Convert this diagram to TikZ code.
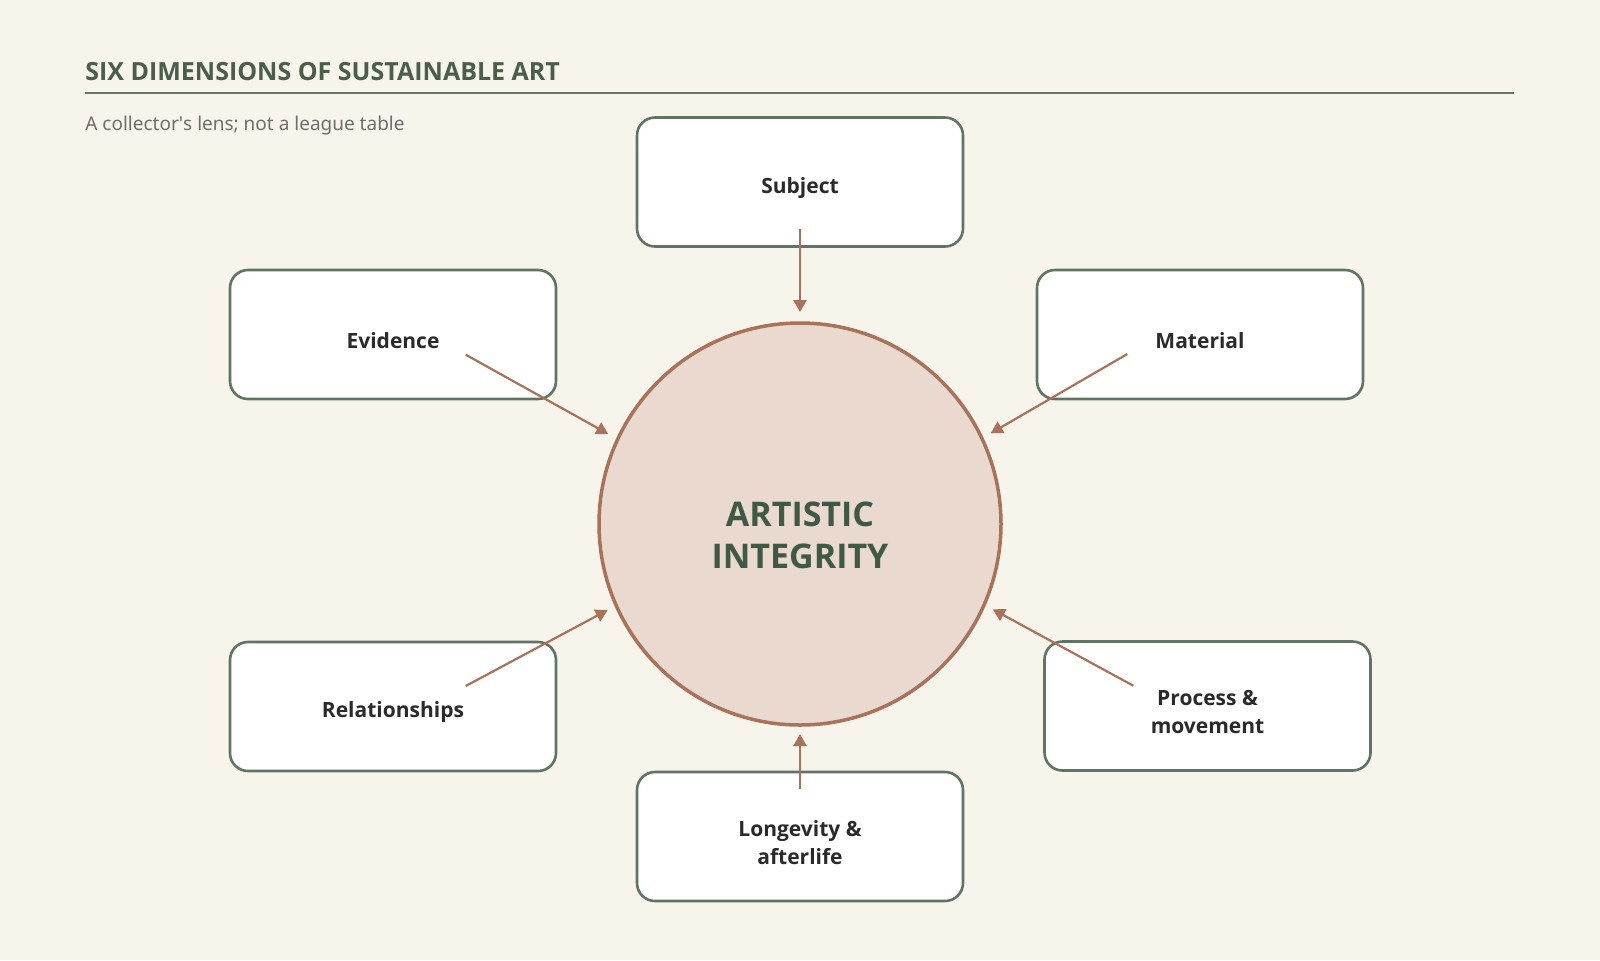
\documentclass[tikz,border=0pt]{standalone}
\usepackage{fontspec}
\setmainfont{Noto Sans}[BoldFont={Open Sans Bold}]
\usetikzlibrary{arrows.meta}
\definecolor{bg}{HTML}{F7F4EC}
\definecolor{boxline}{HTML}{5F7462}
\definecolor{titlegreen}{HTML}{4A5E4B}
\definecolor{subgray}{HTML}{6E6E6A}
\definecolor{boxtext}{HTML}{2A2A2A}
\definecolor{circfill}{HTML}{E9D9CE}
\definecolor{brown}{HTML}{A8735A}
\definecolor{centertext}{HTML}{3F5944}
\tikzset{
  dimbox/.style={draw=boxline, line width=1.3pt, fill=white, rounded corners=9pt,
    minimum width=163pt, minimum height=64.5pt, inner sep=0pt},
  boxlabel/.style={inner sep=0pt, align=center, font=\fontsize{10.5}{14}\selectfont\bfseries, text=boxtext},
  hub/.style={circle, draw=brown, line width=1.75pt, fill=circfill, minimum size=201pt, inner sep=0pt},
  hublabel/.style={inner sep=0pt, align=center, font=\fontsize{17}{21}\selectfont\bfseries, text=centertext},
  feed/.style={draw=brown, line width=1.1pt, -{Triangle[length=6pt,width=6.5pt]}},
}
\begin{document}
\begin{tikzpicture}[x=0.5pt,y=-0.5pt]
\useasboundingbox[fill=bg] (0,0) rectangle (1600,960);
% title
\node[anchor=base west, inner sep=0pt, font=\fontsize{12.5}{14}\selectfont\bfseries, text=titlegreen] (title) at (85,80.5) {SIX DIMENSIONS OF SUSTAINABLE ART};
\coordinate (ruleL) at (85,92.5);
\coordinate (ruleR) at (1514,92.5);
\draw[titlegreen!85!white, line width=1pt] (ruleL) -- (ruleR);
\node[anchor=base west, inner sep=0pt, font=\fontsize{9.5}{11}\selectfont, text=subgray] (subtitle) at (85,130) {A collector\textquotesingle s lens; not a league table};
% boxes
\node[dimbox] (subject) at (800,182) {};
\node[dimbox] (evidence) at (393,334.5) {};
\node[dimbox] (material) at (1200,334.5) {};
\node[dimbox] (relation) at (393,706.5) {};
\node[dimbox] (process) at (1207.5,706) {};
\node[dimbox] (longevity) at (800,836.5) {};
\node[boxlabel] (subjectT) at ([yshift=-3pt]subject.center) {Subject};
\node[boxlabel] (evidenceT) at ([yshift=-3pt]evidence.center) {Evidence};
\node[boxlabel] (materialT) at ([yshift=-3pt]material.center) {Material};
\node[boxlabel] (relationT) at ([yshift=-3pt]relation.center) {Relationships};
\node[boxlabel] (processT) at ([yshift=-3pt]process.center) {Process \&\\movement};
\node[boxlabel] (longevityT) at ([yshift=-3pt]longevity.center) {Longevity \&\\afterlife};
% hub
\node[hub] (hub) at (800,524) {};
\node[hublabel] (hubT) at ([yshift=-5.5pt]hub.center) {ARTISTIC\\INTEGRITY};
% connector end points
\coordinate (sS) at (800,229);   \coordinate (sT) at (800,312);
\coordinate (eS) at (465.7,354.7); \coordinate (eT) at (608.3,434);
\coordinate (mS) at (1127.3,354); \coordinate (mT) at (990.7,433.3);
\coordinate (rS) at (465.7,686); \coordinate (rT) at (607.7,610);
\coordinate (pS) at (1133.3,685.7); \coordinate (pT) at (992.7,609.3);
\coordinate (lS) at (800,789); \coordinate (lT) at (800,734);
\draw[feed] (sS) -- (sT);
\draw[feed] (eS) -- (eT);
\draw[feed] (mS) -- (mT);
\draw[feed] (rS) -- (rT);
\draw[feed] (pS) -- (pT);
\draw[feed] (lS) -- (lT);
\end{tikzpicture}
\end{document}
